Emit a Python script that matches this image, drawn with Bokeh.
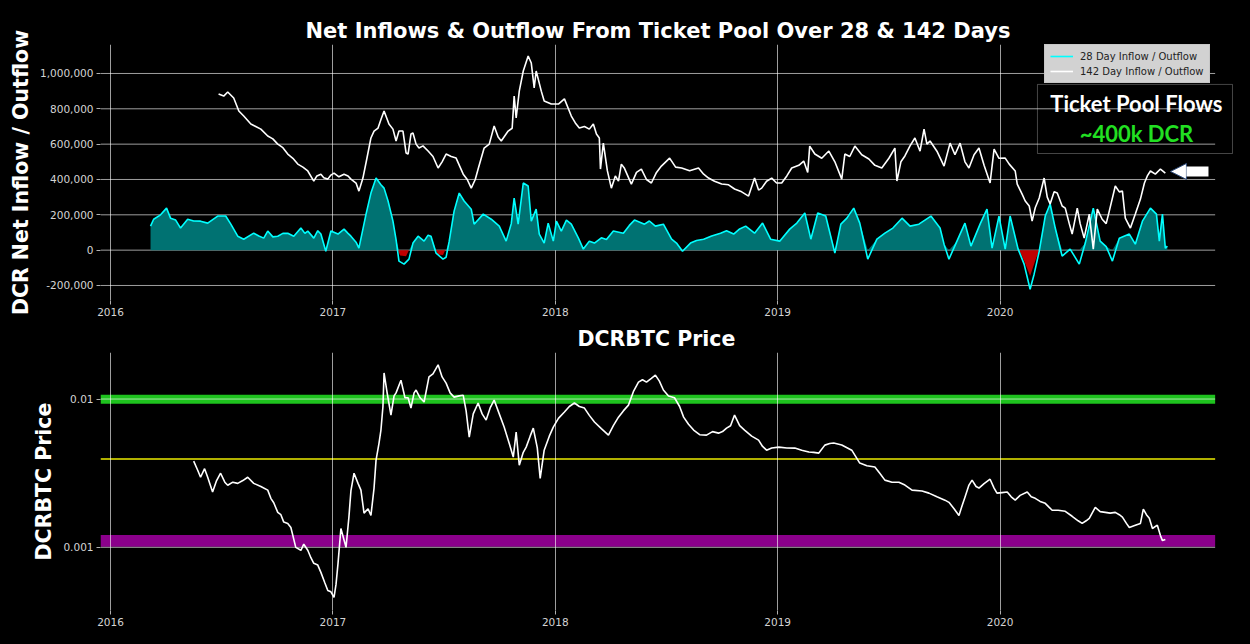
from bokeh.plotting import figure
from bokeh.layouts import column
from bokeh.models import (Range1d, FixedTicker, NumeralTickFormatter, PrintfTickFormatter,
                          Legend, LegendItem, BoxAnnotation, Label, Arrow, NormalHead,
                          GlobalInlineStyleSheet)
from bokeh.embed import file_html
from bokeh.resources import INLINE

# ---------------- data ----------------
year_ticks = [2016, 2017, 2018, 2019, 2020]
flow_ticks = [-200000, 0, 200000, 400000, 600000, 800000, 1000000]
price_ticks = [0.001, 0.01]

# 28 day net inflow / outflow (decimal year, thousands of DCR)
flow28_year = [
    2016.180, 2016.194, 2016.225, 2016.252, 2016.270, 2016.293, 2016.315, 2016.347, 2016.374, 2016.405,
    2016.437, 2016.482, 2016.518, 2016.541, 2016.572, 2016.599, 2016.644, 2016.667, 2016.689, 2016.707,
    2016.730, 2016.752, 2016.775, 2016.797, 2016.824, 2016.856, 2016.874, 2016.887, 2016.914, 2016.932,
    2016.946, 2016.968, 2016.991, 2017.023, 2017.050, 2017.068, 2017.081, 2017.104, 2017.117, 2017.149,
    2017.171, 2017.194, 2017.216, 2017.230, 2017.248, 2017.270, 2017.284, 2017.297, 2017.320, 2017.342,
    2017.360, 2017.383, 2017.410, 2017.428, 2017.441, 2017.464, 2017.495, 2017.509, 2017.523, 2017.545,
    2017.568, 2017.590, 2017.622, 2017.635, 2017.676, 2017.712, 2017.748, 2017.779, 2017.802, 2017.815,
    2017.833, 2017.856, 2017.878, 2017.892, 2017.914, 2017.928, 2017.950, 2017.968, 2017.991, 2018.005,
    2018.027, 2018.050, 2018.072, 2018.104, 2018.126, 2018.153, 2018.176, 2018.207, 2018.230, 2018.261,
    2018.306, 2018.333, 2018.356, 2018.401, 2018.423, 2018.450, 2018.486, 2018.523, 2018.545, 2018.572,
    2018.608, 2018.635, 2018.667, 2018.703, 2018.743, 2018.770, 2018.802, 2018.829, 2018.856, 2018.896,
    2018.932, 2018.968, 2019.009, 2019.054, 2019.086, 2019.122, 2019.149, 2019.180, 2019.216, 2019.257,
    2019.284, 2019.311, 2019.342, 2019.369, 2019.405, 2019.446, 2019.482, 2019.518, 2019.559, 2019.595,
    2019.635, 2019.662, 2019.689, 2019.730, 2019.748, 2019.770, 2019.806, 2019.842, 2019.869, 2019.910,
    2019.941, 2019.964, 2019.995, 2020.023, 2020.045, 2020.081, 2020.108, 2020.135, 2020.153, 2020.176,
    2020.203, 2020.225, 2020.248, 2020.279, 2020.315, 2020.356, 2020.383, 2020.419, 2020.450, 2020.477,
    2020.505, 2020.536, 2020.581, 2020.608, 2020.640, 2020.676, 2020.703, 2020.716, 2020.730, 2020.743,
    2020.752,
]
flow28_k = [
    136, 175, 200, 238, 181, 170, 125, 175, 165, 164,
    153, 193, 193, 147, 79, 62, 96, 80, 68, 108,
    75, 79, 95, 96, 79, 125, 95, 108, 68, 110,
    91, -6, 108, 91, 119, 95, 79, 45, 11, 204,
    323, 408, 370, 351, 278, 164, 60, -62, -79, -51,
    40, 79, 51, 85, 79, -17, -51, -40, 51, 221,
    323, 278, 232, 147, 204, 175, 136, 51, 150, 295,
    147, 380, 363, 164, 232, 91, 40, 153, 51, 164,
    108, 170, 147, 68, 6, 51, 40, 70, 60, 108,
    96, 140, 170, 147, 165, 136, 147, 62, 40, -6,
    40, 55, 62, 80, 96, 110, 91, 120, 136, 96,
    153, 62, 51, 119, 153, 210, 62, 210, 193, -17,
    147, 181, 238, 153, -51, 62, 96, 125, 181, 136,
    147, 170, 193, 125, 34, -51, 51, 153, 23, 147,
    232, 11, 193, 6, 193, 6, -79, -221, -136, -6,
    193, 261, 125, -34, 6, -79, 40, 238, 51, 20,
    -62, 68, 91, 34, 164, 238, 204, 51, 204, 11,
    23,
]

# net outflow periods shaded red (decimal year, thousands of DCR)
outflow_year = [2017.293, 2017.302, 2017.329, 2017.342,
                2017.464, 2017.473, 2017.495, 2017.505,
                2020.086, 2020.108, 2020.135, 2020.158, 2020.176]
outflow_k = [0, -30, -34, 0,
             0, -25, -28, 0,
             0, -60, -147, -60, 0]

# 142 day net inflow / outflow (decimal year, thousands of DCR)
flow142_year = [
    2016.486, 2016.509, 2016.527, 2016.554, 2016.577, 2016.599, 2016.631, 2016.653, 2016.676, 2016.707,
    2016.730, 2016.752, 2016.775, 2016.797, 2016.820, 2016.842, 2016.865, 2016.887, 2016.914, 2016.928,
    2016.946, 2016.959, 2016.977, 2016.991, 2017.005, 2017.027, 2017.050, 2017.068, 2017.081, 2017.104,
    2017.117, 2017.135, 2017.153, 2017.171, 2017.185, 2017.203, 2017.216, 2017.230, 2017.252, 2017.270,
    2017.284, 2017.297, 2017.315, 2017.329, 2017.338, 2017.351, 2017.360, 2017.374, 2017.387, 2017.405,
    2017.428, 2017.450, 2017.473, 2017.491, 2017.509, 2017.532, 2017.554, 2017.586, 2017.604, 2017.622,
    2017.640, 2017.653, 2017.680, 2017.703, 2017.725, 2017.743, 2017.757, 2017.788, 2017.806, 2017.815,
    2017.824, 2017.838, 2017.856, 2017.878, 2017.892, 2017.905, 2017.914, 2017.937, 2017.950, 2017.982,
    2018.014, 2018.041, 2018.072, 2018.090, 2018.108, 2018.131, 2018.153, 2018.171, 2018.185, 2018.198,
    2018.203, 2018.216, 2018.234, 2018.252, 2018.270, 2018.284, 2018.297, 2018.311, 2018.342, 2018.365,
    2018.387, 2018.410, 2018.432, 2018.455, 2018.477, 2018.514, 2018.541, 2018.568, 2018.604, 2018.644,
    2018.667, 2018.689, 2018.716, 2018.748, 2018.779, 2018.806, 2018.838, 2018.869, 2018.896, 2018.914,
    2018.928, 2018.950, 2018.973, 2018.995, 2019.018, 2019.041, 2019.063, 2019.095, 2019.117, 2019.135,
    2019.144, 2019.167, 2019.198, 2019.230, 2019.257, 2019.288, 2019.302, 2019.324, 2019.347, 2019.378,
    2019.410, 2019.437, 2019.468, 2019.500, 2019.527, 2019.536, 2019.554, 2019.572, 2019.595, 2019.617,
    2019.640, 2019.658, 2019.671, 2019.685, 2019.716, 2019.748, 2019.775, 2019.797, 2019.820, 2019.842,
    2019.860, 2019.883, 2019.905, 2019.928, 2019.955, 2019.973, 2019.995, 2020.023, 2020.041, 2020.068,
    2020.077, 2020.099, 2020.113, 2020.131, 2020.144, 2020.158, 2020.176, 2020.198, 2020.212, 2020.225,
    2020.243, 2020.257, 2020.279, 2020.293, 2020.311, 2020.324, 2020.347, 2020.360, 2020.378, 2020.401,
    2020.419, 2020.437, 2020.459, 2020.477, 2020.491, 2020.518, 2020.536, 2020.550, 2020.563, 2020.586,
    2020.608, 2020.631, 2020.649, 2020.662, 2020.676, 2020.698, 2020.721, 2020.743,
]
flow142_k = [
    884, 872, 895, 861, 788, 759, 714, 700, 685, 646,
    630, 600, 580, 544, 520, 487, 470, 448, 391, 420,
    430, 410, 402, 425, 436, 415, 430, 420, 402, 380,
    334, 408, 520, 635, 674, 691, 740, 788, 714, 685,
    618, 674, 674, 550, 544, 657, 663, 600, 578, 590,
    561, 530, 465, 500, 544, 530, 521, 430, 400, 351,
    400, 459, 578, 600, 703, 640, 618, 674, 690, 872,
    748, 900, 1014, 1099, 1059, 918, 1014, 900, 844, 827,
    827, 856, 759, 720, 691, 700, 685, 714, 657, 635,
    459, 606, 450, 351, 420, 391, 487, 463, 374, 440,
    459, 400, 380, 440, 476, 521, 470, 465, 450, 465,
    430, 408, 390, 374, 370, 346, 330, 306, 408, 340,
    351, 390, 408, 380, 380, 420, 465, 480, 504, 440,
    589, 544, 520, 561, 500, 402, 544, 530, 589, 540,
    516, 480, 465, 520, 578, 391, 500, 533, 590, 635,
    560, 685, 600, 618, 560, 476, 606, 540, 606, 500,
    465, 540, 578, 480, 380, 572, 520, 521, 487, 448,
    374, 317, 278, 250, 164, 240, 295, 408, 300, 261,
    330, 323, 250, 238, 150, 91, 238, 150, 68, 204,
    6, 232, 175, 150, 221, 363, 330, 334, 181, 125,
    204, 289, 380, 420, 448, 430, 459, 436,
]

# DCR / BTC price (decimal year, BTC)
price_year = [
    2016.374, 2016.392, 2016.405, 2016.423, 2016.437, 2016.459, 2016.477, 2016.495, 2016.514, 2016.527,
    2016.550, 2016.572, 2016.595, 2016.617, 2016.644, 2016.676, 2016.707, 2016.721, 2016.734, 2016.752,
    2016.766, 2016.779, 2016.797, 2016.811, 2016.833, 2016.856, 2016.869, 2016.887, 2016.901, 2016.914,
    2016.932, 2016.946, 2016.964, 2016.977, 2016.991, 2017.005, 2017.014, 2017.023, 2017.036, 2017.050,
    2017.059, 2017.072, 2017.081, 2017.095, 2017.113, 2017.126, 2017.140, 2017.158, 2017.171, 2017.185,
    2017.194, 2017.207, 2017.216, 2017.225, 2017.230, 2017.243, 2017.261, 2017.275, 2017.284, 2017.306,
    2017.324, 2017.338, 2017.351, 2017.365, 2017.374, 2017.392, 2017.410, 2017.432, 2017.450, 2017.473,
    2017.491, 2017.509, 2017.527, 2017.545, 2017.568, 2017.586, 2017.599, 2017.613, 2017.631, 2017.653,
    2017.671, 2017.689, 2017.707, 2017.725, 2017.748, 2017.770, 2017.793, 2017.811, 2017.824, 2017.838,
    2017.856, 2017.869, 2017.887, 2017.901, 2017.919, 2017.932, 2017.950, 2017.973, 2017.991, 2018.014,
    2018.041, 2018.063, 2018.086, 2018.108, 2018.131, 2018.153, 2018.176, 2018.207, 2018.239, 2018.261,
    2018.284, 2018.306, 2018.329, 2018.351, 2018.374, 2018.392, 2018.410, 2018.432, 2018.450, 2018.468,
    2018.486, 2018.509, 2018.536, 2018.559, 2018.577, 2018.599, 2018.622, 2018.649, 2018.680, 2018.707,
    2018.734, 2018.752, 2018.770, 2018.788, 2018.806, 2018.829, 2018.851, 2018.883, 2018.914, 2018.932,
    2018.950, 2018.973, 2019.005, 2019.041, 2019.077, 2019.108, 2019.140, 2019.162, 2019.185, 2019.212,
    2019.234, 2019.252, 2019.288, 2019.333, 2019.369, 2019.401, 2019.437, 2019.459, 2019.482, 2019.514,
    2019.545, 2019.572, 2019.604, 2019.649, 2019.680, 2019.716, 2019.752, 2019.770, 2019.793, 2019.815,
    2019.829, 2019.842, 2019.860, 2019.874, 2019.892, 2019.905, 2019.928, 2019.955, 2019.973, 2019.986,
    2020.009, 2020.032, 2020.050, 2020.068, 2020.090, 2020.122, 2020.140, 2020.158, 2020.180, 2020.203,
    2020.221, 2020.234, 2020.261, 2020.293, 2020.324, 2020.351, 2020.369, 2020.387, 2020.401, 2020.428,
    2020.450, 2020.473, 2020.495, 2020.518, 2020.536, 2020.550, 2020.568, 2020.581, 2020.608, 2020.631,
    2020.644, 2020.658, 2020.671, 2020.685, 2020.707, 2020.721, 2020.730, 2020.743,
]
price_btc = [
    0.00381, 0.00331, 0.00297, 0.00339, 0.00297, 0.00236, 0.00282, 0.00316, 0.00275, 0.00262,
    0.00275, 0.00270, 0.00282, 0.00297, 0.00270, 0.00257, 0.00243, 0.00214, 0.00200, 0.00172,
    0.00166, 0.00148, 0.00145, 0.00136, 0.00100, 0.000955, 0.00105, 0.000955, 0.000851, 0.000780,
    0.000759, 0.000678, 0.000575, 0.000512, 0.000501, 0.000459, 0.000562, 0.000780, 0.00134, 0.00112,
    0.00100, 0.00160, 0.00240, 0.00316, 0.00270, 0.00243, 0.00170, 0.00182, 0.00164, 0.00251,
    0.00387, 0.00501, 0.00618, 0.00891, 0.0150, 0.0112, 0.00780, 0.0105, 0.0110, 0.0134,
    0.0102, 0.0102, 0.00869, 0.0110, 0.0115, 0.0102, 0.00955, 0.0141, 0.0148, 0.0170,
    0.0141, 0.0128, 0.0110, 0.0103, 0.0105, 0.0106, 0.00832, 0.00553, 0.00794, 0.00940,
    0.00794, 0.00721, 0.00871, 0.00984, 0.00794, 0.00647, 0.00501, 0.00406, 0.00598, 0.00358,
    0.00437, 0.00474, 0.00562, 0.00637, 0.00468, 0.00292, 0.00452, 0.00562, 0.00647, 0.00741,
    0.00817, 0.00891, 0.00940, 0.00891, 0.00869, 0.00776, 0.00700, 0.00631, 0.00571, 0.00661,
    0.00755, 0.00832, 0.00910, 0.0112, 0.0130, 0.0135, 0.0130, 0.0138, 0.0145, 0.0132,
    0.0115, 0.0105, 0.0102, 0.00891, 0.00755, 0.00676, 0.00618, 0.00575, 0.00571, 0.00603,
    0.00589, 0.00603, 0.00637, 0.00661, 0.00780, 0.00661, 0.00618, 0.00562, 0.00528, 0.00479,
    0.00452, 0.00468, 0.00474, 0.00468, 0.00467, 0.00452, 0.00439, 0.00437, 0.00432, 0.00489,
    0.00501, 0.00505, 0.00490, 0.00452, 0.00370, 0.00355, 0.00348, 0.00316, 0.00284, 0.00275,
    0.00275, 0.00263, 0.00243, 0.00240, 0.00232, 0.00219, 0.00208, 0.00201, 0.00182, 0.00164,
    0.00191, 0.00218, 0.00263, 0.00284, 0.00257, 0.00251, 0.00269, 0.00288, 0.00251, 0.00232,
    0.00234, 0.00236, 0.00219, 0.00208, 0.00224, 0.00236, 0.00219, 0.00214, 0.00204, 0.00198,
    0.00186, 0.00178, 0.00178, 0.00175, 0.00162, 0.00151, 0.00145, 0.00151, 0.00157, 0.00186,
    0.00174, 0.00172, 0.00170, 0.00172, 0.00166, 0.00160, 0.00145, 0.00136, 0.00141, 0.00145,
    0.00181, 0.00166, 0.00157, 0.00134, 0.00141, 0.00120, 0.00111, 0.00113,
]

# price reference levels (BTC)
green_band = (0.0093, 0.0107)
yellow_level = 0.00394
purple_band = (0.00101, 0.00121)

flow28 = [v * 1000 for v in flow28_k]
flow142 = [v * 1000 for v in flow142_k]
outflow = [v * 1000 for v in outflow_k]

# ---------------- styling helpers ----------------
X_START = 2015.955        # left edge of both panels
X_GRID_END = 2020.967     # right edge of the gridded area
X_END = 2021.054          # panels leave room for the annotation box


def style(p, ylabel, ticks):
    p.outline_line_color = None
    p.title.text_color = "white"
    p.title.text_font = "DejaVu Sans"
    p.title.text_font_style = "bold"
    p.title.text_font_size = "20.5px"
    p.title.align = "left"
    for ax in (p.xaxis[0], p.yaxis[0]):
        ax.axis_line_color = None
        ax.major_tick_line_color = "#b0b0b0"
        ax.major_tick_out = 4
        ax.major_tick_in = 0
        ax.minor_tick_line_color = None
        ax.major_label_text_color = "#d4d4d4"
        ax.major_label_text_font = "DejaVu Sans"
        ax.major_label_text_font_size = "10.5px"
        ax.major_label_standoff = 3
    p.xaxis.ticker = FixedTicker(ticks=year_ticks)
    p.xaxis.formatter = PrintfTickFormatter(format="%d")
    p.yaxis.ticker = FixedTicker(ticks=ticks)
    p.yaxis.axis_label = ylabel
    p.yaxis.axis_label_text_color = "white"
    p.yaxis.axis_label_text_font = "DejaVu Sans"
    p.yaxis.axis_label_text_font_style = "bold"
    p.yaxis.axis_label_text_font_size = "20.5px"
    p.yaxis.axis_label_standoff = 4
    p.xgrid.grid_line_color = "white"
    p.xgrid.grid_line_alpha = 0.62
    p.xgrid.grid_line_width = 1
    p.ygrid.visible = False
    # horizontal grid lines stop at the right edge of the data area
    n = len(ticks)
    p.segment(x0=[X_START] * n, x1=[X_GRID_END] * n, y0=ticks, y1=ticks,
              line_color="white", line_alpha=0.62, line_width=1, level="underlay")


# ---------------- top: ticket pool flows ----------------
p1 = figure(width=1234, height=323, title="Net Inflows & Outflow From Ticket Pool Over 28 & 142 Days",
            x_range=Range1d(X_START, X_END), y_range=Range1d(-285000, 1164000),
            output_backend="svg", toolbar_location=None,
            background_fill_color="black", border_fill_color="black",
            min_border_left=100, min_border_right=0, min_border_top=44, min_border_bottom=23)
style(p1, "DCR Net Inflow / Outflow", flow_ticks)
p1.title.offset = 205
p1.title.standoff = 3
p1.title.text_font_size = "21px"
p1.yaxis.formatter = NumeralTickFormatter(format="0,0")

pos = [max(v, 0) for v in flow28]
p1.varea(x=flow28_year, y1=0, y2=pos, fill_color="#007272")
p1.varea(x=outflow_year, y1=0, y2=outflow, fill_color="#c00000")
r28 = p1.line(flow28_year, flow28, line_color="#00ffff", line_width=1.6)
r142 = p1.line(flow142_year, flow142, line_color="white", line_width=1.6)

legend = Legend(items=[LegendItem(label="28 Day Inflow / Outflow", renderers=[r28]),
                       LegendItem(label="142 Day Inflow / Outflow", renderers=[r142])],
                location=(944, 217), background_fill_color="#d2d2d2", background_fill_alpha=1,
                border_line_color="#bbbbbb", label_text_font="DejaVu Sans",
                label_text_font_size="10px", label_text_color="#222222",
                glyph_width=23, glyph_height=12, label_height=12, spacing=3,
                padding=5, margin=0, label_standoff=7)
p1.add_layout(legend)

p1.add_layout(BoxAnnotation(left=2020.168, right=2021.045, top=938000, bottom=547000,
                            fill_color=None, fill_alpha=0, line_color="#e6e6e6", line_width=1))
p1.add_layout(Label(x=2020.613, y=830000, text="Ticket Pool Flows", text_align="center",
                    text_baseline="middle", text_font="Lato", text_font_style="bold",
                    text_font_size="22px", text_color="white"))
p1.add_layout(Label(x=2020.613, y=663000, text="~400k DCR", text_align="center",
                    text_baseline="middle", text_font="Lato", text_font_style="bold",
                    text_font_size="22px", text_color="#22e022"))
p1.add_layout(Arrow(end=NormalHead(size=16, fill_color="white", line_color="#2c4a7a", line_width=1),
                    x_start=2020.937, y_start=445500, x_end=2020.766, y_end=445500,
                    line_color="white", line_width=10))

# ---------------- bottom: DCRBTC price ----------------
p2 = figure(width=1234, height=313, title="DCRBTC Price",
            x_range=Range1d(X_START, X_END), y_range=Range1d(0.000375, 0.0206), y_axis_type="log",
            output_backend="svg", toolbar_location=None,
            background_fill_color="black", border_fill_color="black",
            min_border_left=100, min_border_right=0, min_border_top=27, min_border_bottom=26)
p2.add_layout(BoxAnnotation(left=X_START, right=X_GRID_END, bottom=green_band[0], top=green_band[1],
                            fill_color="#1ec21e", fill_alpha=1, line_color=None, level="image"))
p2.add_layout(BoxAnnotation(left=X_START, right=X_GRID_END, bottom=purple_band[0], top=purple_band[1],
                            fill_color="#8b008b", fill_alpha=1, line_color=None, level="image"))
style(p2, "DCRBTC Price", price_ticks)
p2.title.offset = 477
p2.title.standoff = 3
p2.yaxis.formatter = NumeralTickFormatter(format="0.[000]")
p2.segment(x0=[X_START], x1=[X_GRID_END], y0=[yellow_level], y1=[yellow_level],
           line_color="#b0b000", line_width=2, level="underlay")
p2.line(price_year, price_btc, line_color="white", line_width=1.6)

layout = column(p1, p2, stylesheets=[GlobalInlineStyleSheet(css="body { background-color: #000000; }")])

open("out.html", "w").write(file_html(layout, INLINE))
